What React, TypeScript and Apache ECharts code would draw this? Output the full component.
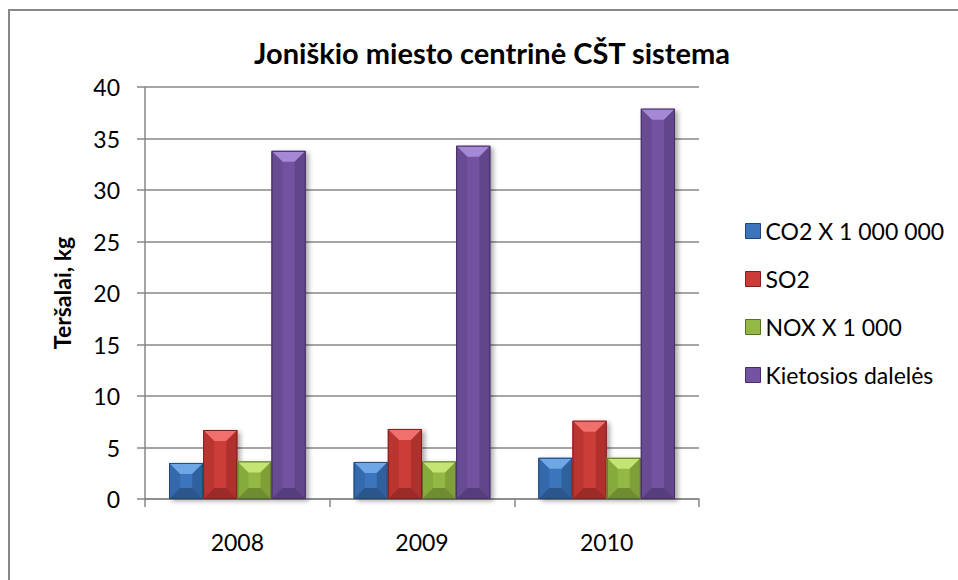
import React, { useEffect, useRef } from "react";
import * as echarts from "echarts";

const categories = ["2008", "2009", "2010"];
const seriesNames = ["CO2 X 1 000 000", "SO2", "NOX X 1 000", "Kietosios dalelės"];
const co2 = [3.5, 3.6, 4.0];
const so2 = [6.7, 6.8, 7.6];
const nox = [3.65, 3.65, 4.0];
const particles = [33.8, 34.3, 37.9];
const yTicks = { min: 0, max: 40, interval: 5 };

const FONT = "Lato, 'Open Sans', sans-serif";
const CAT_GAP = 0.26;
const BEVEL = 11;

const palette = [
  { main: "#3A75BD", top: "#6FA6E6", side: "#3469AC", right: "#2F619F", bottom: "#2A568D", edge: "#22467A" },
  { main: "#CB3C39", top: "#F0716C", side: "#BA3532", right: "#B0302E", bottom: "#9C2A28", edge: "#7E2020" },
  { main: "#93B844", top: "#C4E474", side: "#87AA3D", right: "#7F9F39", bottom: "#6F8C31", edge: "#566E25" },
  { main: "#7353A1", top: "#A689D6", side: "#694B94", right: "#62468B", bottom: "#563D7B", edge: "#432F61" },
];

function makeRenderItem(si: number) {
  return (params: any, api: any) => {
    const cat = api.value(0);
    const val = api.value(1);
    const base = api.coord([cat, 0]);
    const top = api.coord([cat, val]);
    const band = api.size([1, 0])[0];
    const w = (band * (1 - CAT_GAP)) / 4;
    const x = base[0] - 2 * w + si * w;
    const y = top[1];
    const h = base[1] - top[1];
    const b = Math.min(BEVEL, w / 2, h / 2);
    const c = palette[si];
    const x2 = x + w;
    const y2 = y + h;
    return {
      type: "group",
      children: [
        {
          type: "rect",
          shape: { x, y, width: w, height: h },
          style: {
            fill: c.main,
            shadowColor: "rgba(0,0,0,0.35)",
            shadowBlur: 5,
            shadowOffsetX: 3,
            shadowOffsetY: 2,
          },
        },
        {
          type: "polygon",
          shape: { points: [[x, y], [x2, y], [x2 - b, y + b], [x + b, y + b]] },
          style: { fill: c.top },
        },
        {
          type: "polygon",
          shape: { points: [[x, y], [x + b, y + b], [x + b, y2 - b], [x, y2]] },
          style: { fill: c.side },
        },
        {
          type: "polygon",
          shape: { points: [[x2, y], [x2, y2], [x2 - b, y2 - b], [x2 - b, y + b]] },
          style: { fill: c.right },
        },
        {
          type: "polygon",
          shape: { points: [[x, y2], [x + b, y2 - b], [x2 - b, y2 - b], [x2, y2]] },
          style: { fill: c.bottom },
        },
        {
          type: "rect",
          shape: { x: x + 0.5, y: y + 0.5, width: w - 1, height: h - 1 },
          style: { fill: "none", stroke: c.edge, lineWidth: 1 },
        },
      ],
    };
  };
}

export default function App() {
  const ref = useRef<HTMLDivElement>(null);
  useEffect(() => {
    if (!ref.current) return;
    const chart = echarts.init(ref.current, null, { renderer: "svg" });
    const values = [co2, so2, nox, particles];
    chart.setOption({
      animation: false,
      backgroundColor: "#ffffff",
      textStyle: { fontFamily: FONT },
      title: {
        text: "Joniškio miesto centrinė CŠT sistema",
        left: 487,
        textAlign: "center",
        top: 33,
        textStyle: { fontFamily: FONT, fontSize: 29, fontWeight: "bold", color: "#000" },
      },
      graphic: [
        {
          type: "rect",
          shape: { x: 9, y: 10, width: 1000, height: 1000 },
          style: { fill: "none", stroke: "#888888", lineWidth: 2 },
          silent: true,
        },
      ],
      legend: {
        orient: "vertical",
        left: 740,
        top: 214,
        itemWidth: 15,
        itemHeight: 15,
        itemGap: 24,
        icon: "rect",
        textStyle: { fontFamily: FONT, fontSize: 23, color: "#000", lineHeight: 24 },
        data: seriesNames.map((n, i) => ({
          name: n,
          itemStyle: { color: palette[i].main, borderColor: palette[i].edge, borderWidth: 1 },
        })),
      },
      grid: { left: 145, right: 259, top: 87, bottom: 81, containLabel: false },
      xAxis: {
        type: "category",
        data: categories,
        axisLine: { lineStyle: { color: "#878787", width: 1.5 } },
        axisTick: { show: true, length: 8, lineStyle: { color: "#878787", width: 1.5 } },
        axisLabel: { fontFamily: FONT, fontSize: 23, color: "#000", margin: 31 },
      },
      yAxis: {
        type: "value",
        min: yTicks.min,
        max: yTicks.max,
        interval: yTicks.interval,
        name: "Teršalai, kg",
        nameLocation: "middle",
        nameRotate: 90,
        nameGap: 72,
        nameTextStyle: { fontFamily: FONT, fontSize: 23, fontWeight: "bold", color: "#000" },
        axisLine: { show: true, lineStyle: { color: "#878787", width: 1.5 } },
        axisTick: { show: true, length: 8, lineStyle: { color: "#878787", width: 1.5 } },
        axisLabel: { fontFamily: FONT, fontSize: 23, color: "#000", margin: 25 },
        splitLine: { show: true, lineStyle: { color: "#878787", width: 1.5 } },
      },
      series: seriesNames.map((n, i) => ({
        name: n,
        type: "custom",
        renderItem: makeRenderItem(i),
        encode: { x: 0, y: 1 },
        itemStyle: { color: palette[i].main },
        data: values[i].map((v, ci) => [ci, v]),
      })),
    });
    return () => chart.dispose();
  }, []);
  return (
    <div
      ref={ref}
      style={{ position: "absolute", left: 0, top: 0, width: 958, height: 580 }}
    />
  );
}
